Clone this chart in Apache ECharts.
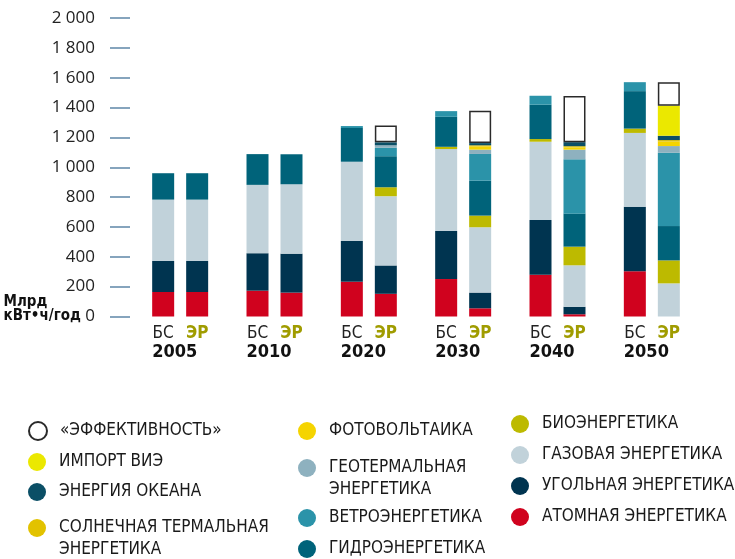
<!DOCTYPE html>
<html>
<head>
<meta charset="utf-8">
<script src="https://cdn.jsdelivr.net/npm/echarts@6/dist/echarts.min.js"></script>
<style>
  html, body { margin: 0; padding: 0; background: #fff; }
  #chart { width: 735px; height: 559px; }
</style>
</head>
<body>
<div id="chart"></div>
<script>
// годы и значения (млрд кВт·ч/год), БС = базовый сценарий, ЭР = энергетическая революция
const years = ['2005', '2010', '2020', '2030', '2040', '2050'];
const yTicks = [0, 200, 400, 600, 800, 1000, 1200, 1400, 1600, 1800, 2000];

const bsNuclear = [164, 173, 233, 251, 280, 303];
const bsCoal    = [208, 251, 273, 322, 366, 433];
const bsGas     = [411, 458, 531, 549, 525, 494];
const bsBio     = [0, 0, 0, 15, 18, 29];
const bsHydro   = [177, 206, 226, 201, 230, 251];
const bsWind    = [0, 0, 13, 38, 60, 60];

const erNuclear = [164, 160, 152, 55, 15, 0];
const erCoal    = [208, 261, 190, 105, 50, 0];
const erGas     = [411, 465, 464, 438, 278, 222];
const erBio     = [0, 0, 60, 78, 125, 154];
const erHydro   = [177, 201, 208, 234, 221, 230];
const erWind    = [0, 0, 56, 179, 364, 491];
const erGeo     = [0, 0, 17, 29, 65, 45];
const erPV      = [0, 0, 0, 22, 15, 30];
const erSolarTh = [0, 0, 0, 7, 8, 10];
const erOcean   = [0, 0, 20, 15, 27, 29];
const erImport  = [0, 0, 0, 0, 0, 201];
const erEffic   = [0, 0, 112, 216, 309, 157];

const NARROW = '"Liberation Sans Narrow", "DejaVu Sans Condensed", sans-serif';

// снизу вверх
const sources = [
  { name: 'АТОМНАЯ ЭНЕРГЕТИКА', color: '#d0021e', bs: bsNuclear, er: erNuclear },
  { name: 'УГОЛЬНАЯ ЭНЕРГЕТИКА', color: '#003450', bs: bsCoal, er: erCoal },
  { name: 'ГАЗОВАЯ ЭНЕРГЕТИКА', color: '#c1d2da', bs: bsGas, er: erGas },
  { name: 'БИОЭНЕРГЕТИКА', color: '#bdba00', bs: bsBio, er: erBio },
  { name: 'ГИДРОЭНЕРГЕТИКА', color: '#00637a', bs: bsHydro, er: erHydro },
  { name: 'ВЕТРОЭНЕРГЕТИКА', color: '#2b93a9', bs: bsWind, er: erWind },
  { name: 'ГЕОТЕРМАЛЬНАЯ ЭНЕРГЕТИКА', color: '#8eb1bf', bs: null, er: erGeo },
  { name: 'ФОТОВОЛЬТАИКА', color: '#f5d400', bs: null, er: erPV },
  { name: 'СОЛНЕЧНАЯ ТЕРМАЛЬНАЯ ЭНЕРГЕТИКА', color: '#e2c200', bs: null, er: erSolarTh },
  { name: 'ЭНЕРГИЯ ОКЕАНА', color: '#0b4f66', bs: null, er: erOcean },
  { name: 'ИМПОРТ ВИЭ', color: '#ebe800', bs: null, er: erImport },
  { name: '«ЭФФЕКТИВНОСТЬ»', color: '#ffffff', bs: null, er: erEffic, border: true }
];

const series = [];
['bs', 'er'].forEach(stack => {
  sources.forEach(s => {
    const vals = s[stack] || years.map(() => 0);
    series.push({
      type: 'bar',
      name: s.name,
      stack: stack,
      barWidth: 22,
      barGap: '54.5%',
      data: vals.map(v => v || '-'),
      itemStyle: s.border
        ? { color: s.color, borderColor: '#2a2a2a', borderWidth: 1.5 }
        : { color: s.color },
      emphasis: { disabled: true }
    });
  });
});

// позиции элементов легенды: [имя, центр значка x, центр y, две строки]
const legendLayout = [
  ['«ЭФФЕКТИВНОСТЬ»', 37, 431, false],
  ['ИМПОРТ ВИЭ', 37, 462, false],
  ['ЭНЕРГИЯ ОКЕАНА', 37, 492, false],
  ['СОЛНЕЧНАЯ ТЕРМАЛЬНАЯ ЭНЕРГЕТИКА', 37, 528, true],
  ['ФОТОВОЛЬТАИКА', 307, 431, false],
  ['ГЕОТЕРМАЛЬНАЯ ЭНЕРГЕТИКА', 307, 468, true],
  ['ВЕТРОЭНЕРГЕТИКА', 307, 518, false],
  ['ГИДРОЭНЕРГЕТИКА', 307, 549, false],
  ['БИОЭНЕРГЕТИКА', 520, 424, false],
  ['ГАЗОВАЯ ЭНЕРГЕТИКА', 520, 455, false],
  ['УГОЛЬНАЯ ЭНЕРГЕТИКА', 520, 486, false],
  ['АТОМНАЯ ЭНЕРГЕТИКА', 520, 517, false]
];

// перенос по последнему пробелу, пустая первая строка держит значок на уровне первой строки
const twoLines = n => {
  const i = n.lastIndexOf(' ');
  return ' \n' + n.slice(0, i) + '\n' + n.slice(i + 1);
};

const legends = legendLayout.map(([name, cx, cy, two]) => ({
  data: [name],
  left: cx - 9,
  top: two ? cy - 33 : cy - 11,
  padding: 0,
  icon: 'circle',
  itemWidth: 18,
  itemHeight: 18,
  selectedMode: false,
  formatter: n => two ? twoLines(n) : n,
  textStyle: {
    fontFamily: NARROW,
    fontSize: 17,
    color: '#1a1a1a',
    lineHeight: 22,
    padding: [0, 0, 0, 8]
  }
}));

const fmtNum = v => v >= 1000 ? Math.floor(v / 1000) + ' ' + String(v % 1000).padStart(3, '0') : String(v);

const chart = echarts.init(document.getElementById('chart'));
chart.setOption({
  animation: false,
  legend: legends,
  grid: { left: 133, right: 36, top: 18, bottom: 242.5 },
  xAxis: {
    type: 'category',
    data: years,
    axisLine: { show: false },
    axisTick: { show: false },
    axisLabel: {
      interval: 0,
      margin: 9,
      formatter: v => '{bs|БС}{er|ЭР}\n{yr|' + v + '}',
      rich: {
        bs: { width: 34, align: 'center', fontFamily: NARROW, fontSize: 17, color: '#222', lineHeight: 17 },
        er: { width: 34, align: 'center', fontFamily: NARROW, fontSize: 17, fontWeight: 'bold', color: '#a09c00', lineHeight: 17 },
        yr: { align: 'left', padding: [0, 0, 0, 6], fontFamily: NARROW, fontSize: 18, fontWeight: 'bold', color: '#111', lineHeight: 19 }
      }
    }
  },
  yAxis: {
    type: 'value',
    min: yTicks[0],
    max: yTicks[yTicks.length - 1],
    interval: yTicks[1] - yTicks[0],
    offset: 3,
    axisLine: { show: false },
    splitLine: { show: false },
    axisTick: { show: true, length: 20, lineStyle: { color: '#5f86a8', width: 1.5 } },
    axisLabel: {
      showMinLabel: true,
      hideOverlap: false,
      margin: 35,
      fontFamily: '"Open Sans", sans-serif',
      fontSize: 17,
      lineHeight: 14,
      color: '#222',
      // «Млрд кВт•ч/год» стоит вместе с нулём; пустая третья строка держит «0» на уровне деления
      formatter: v => v === 0
        ? '{a|Млрд}\n{b|кВт•ч/год}{c| 0}\n{e| }'
        : fmtNum(v),
      rich: {
        a: { align: 'left', fontFamily: NARROW, fontWeight: 'bold', fontSize: 15, color: '#111', lineHeight: 14 },
        b: { align: 'left', fontFamily: NARROW, fontWeight: 'bold', fontSize: 15, color: '#111', lineHeight: 14 },
        c: { align: 'right', fontFamily: '"Open Sans", sans-serif', fontSize: 17, color: '#222', lineHeight: 14 },
        e: { fontSize: 12, lineHeight: 14 }
      }
    }
  },
  series: series
});
</script>
</body>
</html>
